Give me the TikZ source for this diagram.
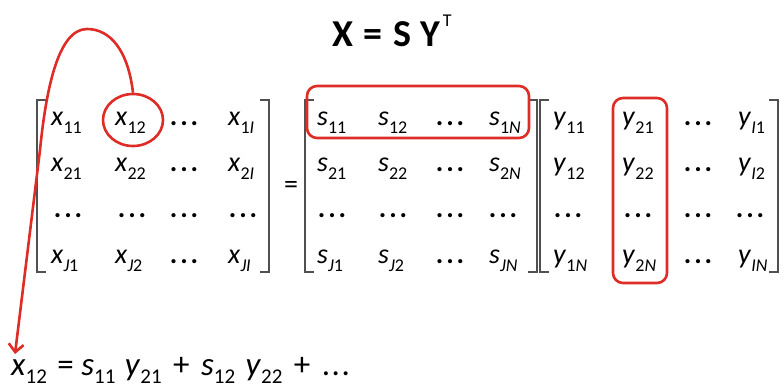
\documentclass[tikz,border=0pt]{standalone}
\usepackage{fontspec}
\setmainfont{Carlito}
\usetikzlibrary{arrows.meta,shapes.geometric}
\definecolor{hred}{RGB}{222,45,38}
\definecolor{brk}{RGB}{80,80,80}
\newcommand\ent[2]{\textit{#1}\raisebox{-8pt}{\fontsize{18}{18}\selectfont #2}}
\newcommand\entb[2]{\textit{#1}\raisebox{-8pt}{\fontsize{21}{21}\selectfont #2}}
\newcommand\dd{\textbf{.\kern3pt.\kern3pt.}}
\tikzset{
  el/.style={inner sep=0pt, anchor=base west, font=\fontsize{28}{28}\selectfont},
  dt/.style={inner sep=0pt, anchor=base, font=\fontsize{28}{28}\selectfont},
  brack/.style={draw=brk, line width=1.4pt},
  hl/.style={draw=hred, line width=2.6pt, rounded corners=10pt},
}
\begin{document}
\begin{tikzpicture}[x=1pt,y=-1pt]
\useasboundingbox (0,0) rectangle (784,389);
% title
\node[inner sep=0pt, anchor=base west, font=\fontsize{38}{38}\selectfont\bfseries] (title) at (332,46) {X\kern10pt=\kern11pt S\kern9pt Y\kern3pt\raisebox{20pt}{\fontsize{18}{18}\selectfont\mdseries T}};
% X matrix
\node[el] (x11) at (51,125) {\ent{x}{11}};
\node[el] (x12) at (115,125) {\ent{x}{12}};
\node[dt] (x13) at (184,125) {\dd};
\node[el] (x14) at (228,125) {\ent{x}{1\textit{I}}};
\node[el] (x21) at (51,171) {\ent{x}{21}};
\node[el] (x22) at (115,171) {\ent{x}{22}};
\node[dt] (x23) at (184,171) {\dd};
\node[el] (x24) at (228,171) {\ent{x}{2\textit{I}}};
\node[dt] (x31) at (68,217) {\dd};
\node[dt] (x32) at (132,217) {\dd};
\node[dt] (x33) at (184,217) {\dd};
\node[dt] (x34) at (243,217) {\dd};
\node[el] (x41) at (51,263) {\ent{x}{\textit{J}1}};
\node[el] (x42) at (115,263) {\ent{x}{\textit{J}2}};
\node[dt] (x43) at (184,263) {\dd};
\node[el] (x44) at (228,263) {\ent{x}{\textit{JI}}};
\draw[brack] (46,100) -- (37,100) -- (37,272) -- (46,272);
\draw[brack] (260,100) -- (269,100) -- (269,272) -- (260,272);
\node[inner sep=0pt, font=\fontsize{28}{28}\selectfont] (eqs) at (291,187) {=};
% S matrix
\node[el] (s11) at (317,125) {\ent{s}{11}};
\node[el] (s12) at (378,125) {\ent{s}{12}};
\node[dt] (s13) at (450,125) {\dd};
\node[el] (s14) at (489,125) {\ent{s}{1\textit{N}}};
\node[el] (s21) at (317,171) {\ent{s}{21}};
\node[el] (s22) at (378,171) {\ent{s}{22}};
\node[dt] (s23) at (450,171) {\dd};
\node[el] (s24) at (489,171) {\ent{s}{2\textit{N}}};
\node[dt] (s31) at (332,217) {\dd};
\node[dt] (s32) at (393,217) {\dd};
\node[dt] (s33) at (450,217) {\dd};
\node[dt] (s34) at (503,217) {\dd};
\node[el] (s41) at (317,263) {\ent{s}{\textit{J}1}};
\node[el] (s42) at (378,263) {\ent{s}{\textit{J}2}};
\node[dt] (s43) at (450,263) {\dd};
\node[el] (s44) at (489,263) {\ent{s}{\textit{JN}}};
\draw[brack] (314,100) -- (305,100) -- (305,272) -- (314,272);
\draw[brack] (528,100) -- (537,100) -- (537,272) -- (528,272);
% Y matrix
\node[el] (y11) at (553,125) {\ent{y}{11}};
\node[el] (y12) at (622,125) {\ent{y}{21}};
\node[dt] (y13) at (698,125) {\dd};
\node[el] (y14) at (738,125) {\ent{y}{\textit{I}1}};
\node[el] (y21) at (553,171) {\ent{y}{12}};
\node[el] (y22) at (622,171) {\ent{y}{22}};
\node[dt] (y23) at (698,171) {\dd};
\node[el] (y24) at (738,171) {\ent{y}{\textit{I}2}};
\node[dt] (y31) at (568,217) {\dd};
\node[dt] (y32) at (638,217) {\dd};
\node[dt] (y33) at (698,217) {\dd};
\node[dt] (y34) at (750,217) {\dd};
\node[el] (y41) at (553,263) {\ent{y}{1\textit{N}}};
\node[el] (y42) at (622,263) {\ent{y}{2\textit{N}}};
\node[dt] (y43) at (698,263) {\dd};
\node[el] (y44) at (738,263) {\ent{y}{\textit{IN}}};
\draw[brack] (549,100) -- (540,100) -- (540,272) -- (549,272);
\draw[brack] (769,100) -- (778,100) -- (778,272) -- (769,272);
% highlights
\node[draw=hred, line width=2.6pt, ellipse, minimum width=60pt, minimum height=52pt, inner sep=0pt] (c12) at (133,120) {};
\draw[hl] (307,86) rectangle (529,138);
\draw[hl] (613,98) rectangle (667,283);
% bottom equation
\node[inner sep=0pt, anchor=base west, font=\fontsize{33}{33}\selectfont] (eq) at (11,375) {\entb{x}{12}\kern3pt{} = \entb{s}{11}\kern2pt\ \entb{y}{21}\kern4pt{} + \kern4pt\entb{s}{12}\kern3pt\ \entb{y}{22}\kern4pt{} + \kern4pt.\kern1.5pt.\kern1.5pt.};
\coordinate (tip) at (15,354);
\draw[draw=hred, line width=2.6pt, -{Straight Barb[length=8pt,width=15pt]}]
  (c12.north) .. controls (128,50) and (110,29) .. (87,29)
  .. controls (58,29) and (46,90) .. (40,150) -- (tip);
\end{tikzpicture}
\end{document}
